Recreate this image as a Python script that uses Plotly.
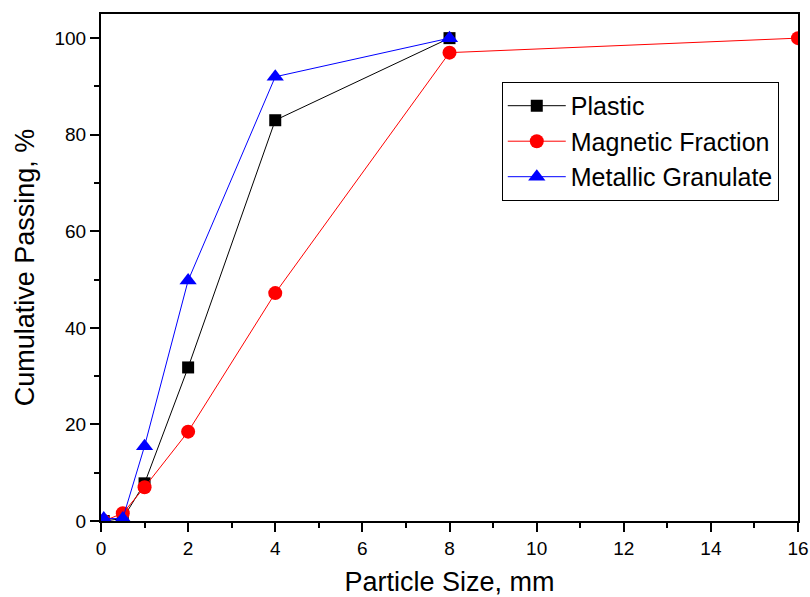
import plotly.graph_objects as go

plastic_x = [0.063, 0.5, 1, 2, 4, 8]
plastic_y = [0.0, 0.5, 7.8, 31.8, 83.0, 100.0]

magnetic_x = [0.063, 0.5, 1, 2, 4, 8, 16]
magnetic_y = [0.0, 1.6, 7.0, 18.5, 47.2, 97.0, 100.0]

metallic_x = [0.063, 0.5, 1, 2, 4, 8]
metallic_y = [0.5, 0.5, 15.5, 49.8, 92.0, 100.0]

font = "Liberation Sans, Arial, sans-serif"

fig = go.Figure()
fig.add_trace(go.Scatter(x=plastic_x, y=plastic_y, name="Plastic", mode="lines+markers",
                         line=dict(color="black", width=1),
                         marker=dict(symbol="square", size=12, color="black")))
fig.add_trace(go.Scatter(x=magnetic_x, y=magnetic_y, name="Magnetic Fraction", mode="lines+markers",
                         line=dict(color="red", width=1),
                         marker=dict(symbol="circle", size=14, color="red")))
fig.add_trace(go.Scatter(x=metallic_x, y=metallic_y, name="Metallic Granulate", mode="lines+markers",
                         line=dict(color="blue", width=1),
                         marker=dict(symbol="triangle-up", size=15, color="blue")))

fig.update_layout(
    width=810, height=597,
    margin=dict(l=101, r=12, t=14, b=76),
    paper_bgcolor="white", plot_bgcolor="white",
    font=dict(family=font, size=19, color="black"),
    showlegend=True,
    legend=dict(x=0.575, y=0.866, xanchor="left", yanchor="top",
                bordercolor="black", borderwidth=1, bgcolor="white",
                font=dict(family=font, size=25), tracegroupgap=0,
                itemwidth=58),
)
fig.update_xaxes(range=[0, 16], dtick=2, tick0=0, showline=True, linewidth=2, linecolor="black",
                 mirror=True, ticks="outside", ticklen=9, tickwidth=2, tickcolor="black",
                 showgrid=False, zeroline=False, automargin=False, ticklabeloverflow="allow",
                 minor=dict(ticks="outside", ticklen=5, tickwidth=2, dtick=1, tick0=0, tickcolor="black", showgrid=False),
                 tickfont=dict(size=19),
                 title=dict(text="Particle Size, mm", font=dict(size=27), standoff=16))
fig.update_yaxes(range=[0, 105], dtick=20, tick0=0, showline=True, linewidth=2, linecolor="black",
                 mirror=True, ticks="outside", ticklen=9, tickwidth=2, tickcolor="black",
                 showgrid=False, zeroline=False, automargin=False,
                 minor=dict(ticks="outside", ticklen=5, tickwidth=2, dtick=10, tick0=0, tickcolor="black", showgrid=False),
                 tickfont=dict(size=19),
                 title=dict(text="Cumulative Passing, %", font=dict(size=27), standoff=12))

fig.write_html("out.html", config={"displayModeBar": False},
               post_script="document.body.style.margin='0';")
